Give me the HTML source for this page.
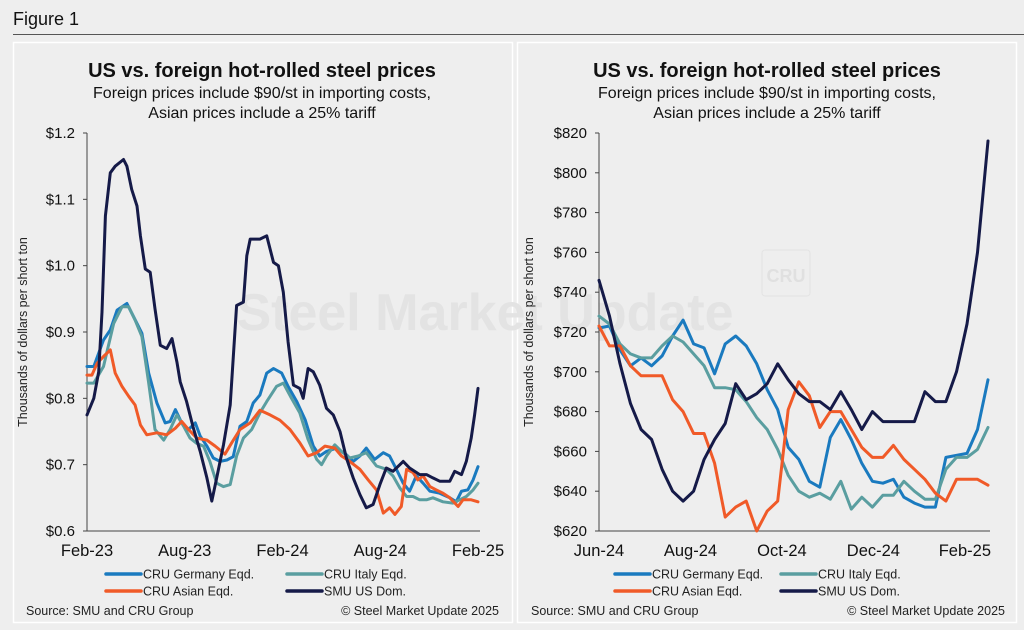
<!DOCTYPE html>
<html><head><meta charset="utf-8"><style>
html,body{margin:0;padding:0;background:#eeeeee;}
svg{display:block;font-family:"Liberation Sans",Arial,sans-serif;}
</style></head><body>
<svg id="s" width="1024" height="630" viewBox="0 0 1024 630" xmlns="http://www.w3.org/2000/svg">
<rect x="0" y="0" width="1024" height="630" fill="#eeeeee"/>
<text x="13" y="25" font-size="18" fill="#111">Figure 1</text>
<line x1="13" y1="34.5" x2="1024" y2="34.5" stroke="#555" stroke-width="1"/>
<rect x="13.5" y="42.5" width="499" height="580" fill="none" stroke="#fff" stroke-width="1.5"/>
<rect x="517.5" y="42.5" width="499" height="580" fill="none" stroke="#fff" stroke-width="1.5"/>
<text x="485" y="330" font-size="52" font-weight="bold" fill="#e3e3e3" text-anchor="middle">Steel Market Update</text>
<rect x="762" y="250" width="48" height="46" rx="3" fill="none" stroke="#e3e3e3"/>
<text x="786" y="282" font-size="18" font-weight="bold" fill="#e0e0e0" text-anchor="middle">CRU</text>
<g id="L"></g><g id="R"></g>
</svg>
<script>
// ---- Left chart data (weeks since Feb-23, $ thousands/short ton)
const leftTicks=[0.6,0.7,0.8,0.9,1.0,1.1,1.2];
const leftTickLabels=["$0.6","$0.7","$0.8","$0.9","$1.0","$1.1","$1.2"];
const leftXLabels=["Feb-23","Aug-23","Feb-24","Aug-24","Feb-25"];
const leftXLabelWeeks=[0,26,52,78,104];
const smuWeeks=[0,1.8,3.1,4,4.9,6.2,7.5,9.7,10.6,11.9,13.3,14.2,15.5,16.8,18.1,19.5,21.2,22.6,23.9,24.8,26.5,28.3,30.1,31.9,33.2,34.5,36.3,38.1,39.8,41.6,42.5,43.4,46,47.8,49.6,50.9,52.2,53.5,54.9,56.6,57.5,58.8,60.2,61.9,63.7,65.5,67.3,69,70.8,72.6,74.3,76.1,77.9,79.6,81.4,84.1,85.8,88.5,90.3,92,93.8,96.5,97.8,99.6,100.9,102.2,103.1,104];
const smuVals=[0.775,0.80,0.84,0.93,1.075,1.14,1.15,1.16,1.15,1.115,1.09,1.045,0.995,0.99,0.935,0.88,0.875,0.89,0.855,0.825,0.795,0.755,0.72,0.68,0.645,0.68,0.73,0.79,0.94,0.945,1.015,1.04,1.04,1.045,1.005,1.0,0.96,0.885,0.82,0.815,0.80,0.845,0.84,0.82,0.785,0.775,0.75,0.71,0.68,0.655,0.635,0.64,0.67,0.695,0.69,0.705,0.695,0.685,0.685,0.68,0.675,0.675,0.69,0.685,0.705,0.74,0.775,0.815];
const gerWeeks=[0,1.8,4.4,6.2,8,10.6,12.4,14.6,16.4,18.6,20.8,22.1,23.5,25.2,27,28.8,30.1,31.9,33.6,35.4,37.2,38.9,40.7,42.5,44.2,46,47.8,49.6,51.8,53.5,55.8,58,60.2,61.9,63.7,66.4,69,70.8,72.6,74.3,76.5,78.8,80.5,82.3,84.1,85.8,87.6,89.4,91.2,93.8,96.5,98.2,99.6,101.3,102.7,104];
const gerVals=[0.848,0.848,0.888,0.903,0.933,0.943,0.923,0.898,0.838,0.793,0.763,0.765,0.783,0.763,0.753,0.763,0.743,0.728,0.71,0.705,0.707,0.712,0.758,0.765,0.793,0.805,0.838,0.845,0.838,0.818,0.795,0.768,0.728,0.713,0.72,0.725,0.715,0.705,0.713,0.725,0.708,0.718,0.713,0.693,0.672,0.66,0.683,0.672,0.66,0.657,0.65,0.644,0.66,0.662,0.677,0.697];
const itaWeeks=[0,1.8,4.4,7.1,9.3,11.1,12.8,14.6,16.4,18.1,20.4,22.1,23.9,25.7,27.4,29.2,31,32.7,34.5,36.3,38.1,39.8,41.6,43.8,46,47.8,50.4,52.2,54.4,56.6,58.8,61.1,62.4,63.7,65.9,67.7,69.9,72.1,74.3,77,79.6,81.4,83.2,85,86.7,88.5,90.3,92,94.7,97.3,99.1,100.9,102.7,104];
const itaVals=[0.823,0.823,0.848,0.913,0.938,0.938,0.918,0.893,0.823,0.753,0.737,0.753,0.775,0.758,0.74,0.732,0.728,0.705,0.672,0.667,0.67,0.713,0.74,0.753,0.778,0.795,0.818,0.823,0.80,0.778,0.738,0.708,0.70,0.713,0.73,0.72,0.71,0.713,0.718,0.698,0.693,0.683,0.665,0.652,0.652,0.647,0.647,0.65,0.644,0.642,0.647,0.652,0.662,0.672];
const asiWeeks=[0,1.3,2.7,4.4,6.2,7.5,9.3,11.1,12.8,14.2,15.9,18.6,21.2,23.5,25.2,27,29.2,31.9,34.1,36.7,38.5,40.7,43.4,46,48.7,51.3,54,56.6,58.8,61.1,63.3,65.9,67.7,69.9,72.6,74.8,77,78.8,80.5,81.9,83.6,85,86.7,88,89.4,91.2,92.9,94.7,96.5,98.7,100,102.2,104];
const asiVals=[0.835,0.835,0.853,0.863,0.873,0.838,0.818,0.803,0.79,0.76,0.745,0.748,0.745,0.755,0.765,0.753,0.74,0.737,0.728,0.716,0.733,0.753,0.763,0.782,0.775,0.767,0.753,0.733,0.713,0.718,0.728,0.725,0.713,0.705,0.693,0.677,0.662,0.627,0.635,0.625,0.637,0.693,0.688,0.677,0.683,0.667,0.662,0.657,0.65,0.637,0.647,0.647,0.644];
// ---- Right chart data (weekly from Jun-24, $/short ton)
const rightTicks=[620,640,660,680,700,720,740,760,780,800,820];
const rightTickLabels=["$620","$640","$660","$680","$700","$720","$740","$760","$780","$800","$820"];
const rightXLabels=["Jun-24","Aug-24","Oct-24","Dec-24","Feb-25"];
const rightXLabelWeeks=[0,8.7,17.4,26.1,34.8];
const rSmu=[746,728,704,684,671,666,651,640,635,640,656,666,674,694,686,689,694,704,696,689,685,685,681,690,681,671,680,675,675,675,675,690,685,685,700,724,760,816];
const rGer=[722,723,711,703,707,703,708,718,726,714,712,699,714,718,713,704,691,681,662,656,645,642,667,676,666,654,645,644,646,637,634,632,632,657,658,659,671,696];
const rIta=[728,724,714,709,707,707,713,718,715,709,703,692,692,691,685,677,671,661,648,640,637,639,636,645,631,637,632,638,638,645,640,636,636,651,657,657,661,672];
const rAsi=[723,713,713,703,698,698,698,686,680,669,669,654,627,632,635,620,630,635,681,695,688,672,680,680,671,662,657,657,663,656,651,646,639,635,646,646,646,643];

const NS="http://www.w3.org/2000/svg";
const C={ger:"#1a7abf",ita:"#5a9ea0",asi:"#f05a28",smu:"#151a48"};
function mk(p,t,a){const e=document.createElementNS(NS,t);for(const k in a)e.setAttribute(k,a[k]);p.appendChild(e);return e;}
function txt(p,x,y,s,a){const e=mk(p,"text",Object.assign({x:x,y:y},a));e.textContent=s;return e;}

function chart(g,o){
  const x0=o.x0,x1=o.x1,yT=133,yB=531;
  const xs=w=>x0+(w-o.wMin)/(o.wMax-o.wMin)*(x1-x0);
  const ys=v=>yB-(v-o.vMin)/(o.vMax-o.vMin)*(yB-yT);
  txt(g,o.cx,77,"US vs. foreign hot-rolled steel prices",{"font-size":20,"font-weight":"bold","text-anchor":"middle",fill:"#111",});
  txt(g,o.cx,98,"Foreign prices include $90/st in importing costs,",{"font-size":16,"text-anchor":"middle",fill:"#111",});
  txt(g,o.cx,118,"Asian prices include a 25% tariff",{"font-size":16,"text-anchor":"middle",fill:"#111",});
  const yt=txt(g,o.ytx,332,"Thousands of dollars per short ton",{"font-size":12.5,"text-anchor":"middle",fill:"#222",transform:`rotate(-90 ${o.ytx} 332)`});
  
  
  mk(g,"line",{x1:x0,y1:yT,x2:x0,y2:yB,stroke:"#444","stroke-width":1});
  mk(g,"line",{x1:x0,y1:yB,x2:x1+2,y2:yB,stroke:"#444","stroke-width":1});
  o.ticks.forEach((v,i)=>{
    mk(g,"line",{x1:x0-4,y1:ys(v),x2:x0,y2:ys(v),stroke:"#444","stroke-width":1});
    const t=txt(g,x0-12,ys(v)+5,o.tickLabels[i],{"font-size":15,"text-anchor":"end",fill:"#111"});
    
    
  });
  o.xLabels.forEach((s,i)=>{
    const t=txt(g,xs(o.xLabelWeeks[i]),556,s,{"font-size":16.5,"text-anchor":"middle",fill:"#111"});
    
    
  });
  o.series.forEach(s=>{
    const d=s.v.map((v,i)=>(i?"L":"M")+xs(s.w[i]).toFixed(1)+","+ys(v).toFixed(1)).join("");
    const p=mk(g,"path",{d:d,fill:"none",stroke:s.c,"stroke-width":3,"stroke-linejoin":"round","stroke-linecap":"round"});
    
    
  });
  const L=o.leg;
  [["CRU Germany Eqd.",C.ger,L[0],574],["CRU Italy Eqd.",C.ita,L[1],574],["CRU Asian Eqd.",C.asi,L[0],591],["SMU US Dom.",C.smu,L[1],591]].forEach(e=>{
    const gg=mk(g,"g",{});
    
    
    mk(gg,"line",{x1:e[2],y1:e[3],x2:e[2]+35,y2:e[3],stroke:e[1],"stroke-width":3.5,"stroke-linecap":"round"});
    txt(gg,e[2]+37,e[3]+4.5,e[0],{"font-size":12.5,fill:"#222"});
  });
  const a=txt(g,o.src,615,"Source: SMU and CRU Group",{"font-size":12.5,fill:"#222"});
  
  
  const b=txt(g,o.copy,615,"© Steel Market Update 2025",{"font-size":12.5,fill:"#222","text-anchor":"end"});
  
  
}
const rw=rSmu.map((_,i)=>i);
chart(document.getElementById("L"),{x0:87,x1:478,wMin:0,wMax:104,vMin:0.6,vMax:1.2,cx:262,ytx:27,ticks:leftTicks,tickLabels:leftTickLabels,xLabels:leftXLabels,xLabelWeeks:leftXLabelWeeks,leg:[106,287],src:26,copy:499,
  series:[{w:gerWeeks,v:gerVals,c:C.ger,name:"germany-line"},{w:itaWeeks,v:itaVals,c:C.ita,name:"italy-line"},{w:asiWeeks,v:asiVals,c:C.asi,name:"asian-line"},{w:smuWeeks,v:smuVals,c:C.smu,name:"smu-line"}]});
chart(document.getElementById("R"),{x0:599,x1:988,wMin:0,wMax:37,vMin:620,vMax:820,cx:767,ytx:533,ticks:rightTicks,tickLabels:rightTickLabels,xLabels:rightXLabels,xLabelWeeks:rightXLabelWeeks,leg:[615,781],src:531,copy:1005,
  series:[{w:rw,v:rGer,c:C.ger,name:"germany-line"},{w:rw,v:rIta,c:C.ita,name:"italy-line"},{w:rw,v:rAsi,c:C.asi,name:"asian-line"},{w:rw,v:rSmu,c:C.smu,name:"smu-line"}]});
</script>
</body></html>
